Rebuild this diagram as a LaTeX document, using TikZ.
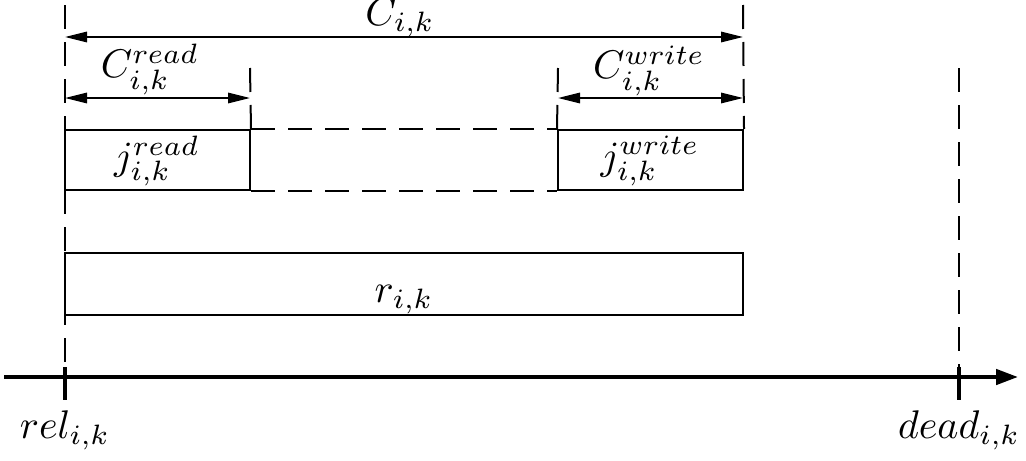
\documentclass[tikz,border=0pt]{standalone}
\usetikzlibrary{arrows.meta}

\begin{document}
\begin{tikzpicture}[x=0.25pt,y=-0.25pt]
                \tikzstyle{every node}=[inner sep=0pt]
                \tikzstyle{dim}=[{Triangle[length=5.5pt,width=2.6pt]}-{Triangle[length=5.5pt,width=2.6pt]}, line width=0.5pt]
                \tikzstyle{guide}=[dash pattern=on 6pt off 3.25pt, line width=0.5pt]
                \tikzstyle{job}=[draw, line width=0.5pt]
                \tikzstyle{tick}=[line width=1pt]
                \useasboundingbox (0,0) rectangle (1026,460);
                % time axis
                \coordinate (axL)     at (4,377);
                \coordinate (axR)     at (1018,377);
                \coordinate (rel)     at (65,377);
                \coordinate (dead)    at (959,377);
                \coordinate (relTop)  at (65,5);
                \coordinate (endTop)  at (743,5);
                \coordinate (deadTop) at (959,68);
                \coordinate (rdTop)   at (250,68);
                \coordinate (wrTop)   at (558,68);
                \coordinate (cL)      at (65,37);
                \coordinate (cR)      at (743,37);
                \coordinate (crL)     at (65,98);
                \coordinate (crR)     at (250,98);
                \coordinate (cwL)     at (558,98);
                \coordinate (cwR)     at (743,98);
                % boxes
                \node[job, minimum width=46.25pt, minimum height=15pt]   (jread)  at (157.5,160) {};
                \node[job, minimum width=46.25pt, minimum height=15pt]   (jwrite) at (650.5,160) {};
                \node[job, minimum width=169.5pt, minimum height=15.5pt] (rbox)   at (404,284)   {};
                \draw[guide] (jread.north east) -- (jwrite.north west);
                \draw[guide] (jread.south east) -- (jwrite.south west);
                % guides
                \draw[guide] (relTop)  -- (rel);
                \draw[guide] (endTop)  -- (jwrite.north east);
                \draw[guide] (deadTop) -- (dead);
                \draw[guide] (rdTop)   -- (jread.north east);
                \draw[guide] (wrTop)   -- (jwrite.north west);
                % durations
                \draw[dim] (cL)  -- (cR);
                \draw[dim] (crL) -- (crR);
                \draw[dim] (cwL) -- (cwR);
                % axis
                \draw[line width=1pt, -{Triangle[length=5.5pt,width=3.8pt]}] (axL) -- (axR);
                \draw[tick] (rel)  ++(0,-10) -- ++(0,33);
                \draw[tick] (dead) ++(0,-10) -- ++(0,33);
                % labels
                \node[anchor=base] (lblC)    at (400,25)  { $C_{i,k}$ };
                \node[anchor=base] (lblCr)   at (150,78)  { $C^{read}_{i,k}$ };
                \node[anchor=base] (lblCw)   at (649,79)  { $C^{write}_{i,k}$ };
                \node              (lblJr)   at (157,161) { $j^{read}_{i,k}$ };
                \node              (lblJw)   at (650,161) { $j^{write}_{i,k}$ };
                \node[anchor=base] (lblR)    at (404,302) { $r_{i,k}$ };
                \node[anchor=base] (lblRel)  at (65,438)  { $rel_{i,k}$ };
                \node[anchor=base] (lblDead) at (959,438) { $dead_{i,k}$ };
\end{tikzpicture}
\end{document}
